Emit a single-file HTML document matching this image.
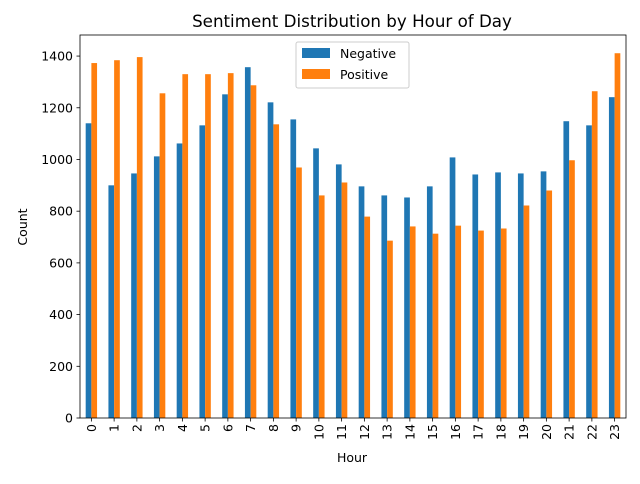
<!DOCTYPE html>
<html><head><meta charset="utf-8"><style>
body{margin:0;background:#fff;font-family:"DejaVu Sans","Liberation Sans",sans-serif;}
svg text{font-family:"DejaVu Sans","Liberation Sans",sans-serif;fill:#000;}
</style></head><body>
<svg id="chart" width="640" height="480" xmlns="http://www.w3.org/2000/svg">
<rect width="640" height="480" fill="#fff"/>
<text x="352" y="27" font-size="16.7" text-anchor="middle">Sentiment Distribution by Hour of Day</text>
<g id="bars"></g><g id="axes"></g>
<g>
<rect x="296" y="42" width="113" height="46" fill="#fff" stroke="#ccc" rx="2"/>
<rect x="302" y="48" width="28" height="10" fill="#1f77b4"/>
<text x="340" y="58" font-size="12.5">Negative</text>
<rect x="302" y="69" width="28" height="10" fill="#ff7f0e"/>
<text x="340" y="79" font-size="12.5">Positive</text>
</g>
<text x="352" y="462" font-size="12.5" text-anchor="middle">Hour</text>
<text transform="translate(27,227) rotate(-90)" font-size="12.5" text-anchor="middle">Count</text>
</svg>
<script>
const categories = ["0","1","2","3","4","5","6","7","8","9","10","11","12","13","14","15","16","17","18","19","20","21","22","23"];
const negativeValues = [1140,900,946,1012,1062,1132,1252,1357,1221,1155,1043,981,896,861,853,896,1008,942,950,946,954,1148,1132,1241];
const positiveValues = [1373,1384,1396,1256,1330,1330,1334,1287,1136,969,861,911,779,686,741,713,744,725,733,822,880,997,1264,1411];
const yTicks = [0,200,400,600,800,1000,1200,1400];
const L=80,R=626,T=35,B=418,yMax=1481.5;
const ns="http://www.w3.org/2000/svg";
const step=(R-L)/categories.length;
const x=i=>L+step*(i+0.5);
const y=v=>B-(v/yMax)*(B-T);
function mk(tag,attrs,parent){const e=document.createElementNS(ns,tag);for(const k in attrs)e.setAttribute(k,attrs[k]);parent.appendChild(e);return e;}
const bars=document.getElementById('bars'),axes=document.getElementById('axes');
const bw=step*0.25;
categories.forEach((c,i)=>{
  let r=mk('rect',{x:x(i)-bw,y:y(negativeValues[i]),width:bw,height:B-y(negativeValues[i]),fill:'#1f77b4'},bars);
  
  
  r=mk('rect',{x:x(i),y:y(positiveValues[i]),width:bw,height:B-y(positiveValues[i]),fill:'#ff7f0e'},bars);
  
  
  const tk=mk('line',{x1:x(i),x2:x(i),y1:B,y2:B+3.5,stroke:'#000','stroke-width':0.8},axes);
  
  
  const t=mk('text',{transform:`translate(${x(i)+4.5},${B+6}) rotate(-90)`,'font-size':12.5,'text-anchor':'end'},axes);
  t.textContent=c;
  
  
});
yTicks.forEach(v=>{
  const tk=mk('line',{x1:L-3.5,x2:L,y1:y(v),y2:y(v),stroke:'#000','stroke-width':0.8},axes);
  
  
  const t=mk('text',{x:L-7,y:y(v)+4.5,'font-size':12.5,'text-anchor':'end'},axes);
  t.textContent=v;
  
  
});
const fr=mk('rect',{x:L,y:T,width:R-L,height:B-T,fill:'none',stroke:'#000','stroke-width':0.8},axes);


</script>
</body></html>
